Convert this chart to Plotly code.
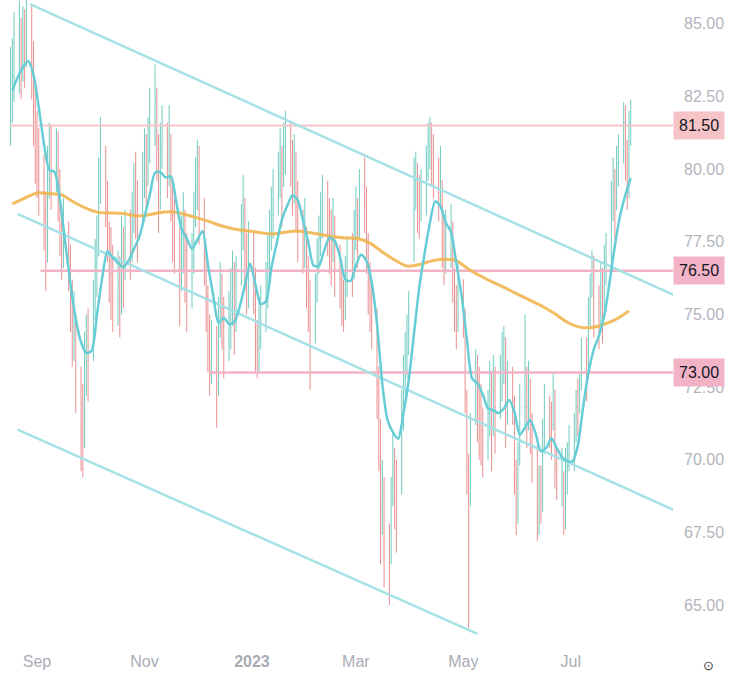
import pandas as pd
import plotly.graph_objects as go

# ---------------- data ----------------
days = pd.bdate_range("2022-08-17", "2023-08-04")

opens = [82.0, 82.4, 83.2,
 83.9, 84.6, 83.2, 84.8, 84.1,  85.0, 83.6, 82.2, 81.0, 80.6,  79.6, 78.5, 76.8, 79.6, 80.5,
 80.2, 80.8, 79.6, 78.6, 77.4,  77.8, 76.6, 75.8, 74.2, 74.6,  72.8, 71.2, 70.8, 72.6, 74.2,
 73.6, 75.6, 76.8, 77.4, 79.2,  80.6, 79.2, 77.6, 77.0, 76.4,  75.6, 76.0, 75.4, 77.2, 76.6,
 77.8, 77.2, 78.4, 79.4, 78.8,  78.0, 79.6, 80.4, 79.8, 80.8,  81.6, 82.4, 81.0, 79.2, 80.6,
 81.4, 80.2, 81.2, 79.6, 78.4,  77.6, 76.2, 77.0, 78.2, 77.2,  76.4, 76.8, 78.2, 79.4, 80.2,
 78.6, 77.0, 75.6, 74.2, 73.4,  73.8, 72.6, 74.4, 75.8, 75.2,  74.0, 74.6, 75.4, 76.2, 75.0,
 76.0, 77.8, 78.6, 77.2, 76.4,  76.8, 76.2, 74.0, 73.4, 74.2,  75.0, 75.8, 76.6, 77.8, 78.4,
 79.0, 79.8, 80.4, 79.4, 80.8,  81.2, 80.4, 79.6, 80.2, 79.0,  78.2, 77.6, 78.0, 76.4, 75.8,
 74.4, 75.6, 76.8, 77.6, 78.2,  79.0, 78.4, 77.8, 77.2, 78.2,  76.6, 76.2, 75.6, 75.0, 76.2,
 76.8, 76.4, 77.6, 78.4, 77.8,  79.2, 78.8, 77.6, 76.0, 75.6,  74.8, 72.6, 71.0, 68.4, 68.8,
 67.2, 66.8, 68.6, 69.8, 69.4,  69.0, 71.6, 72.8, 73.6, 74.4,  78.6, 79.6, 79.8, 79.2, 78.8,
 79.4, 79.8, 80.8, 81.2, 80.6,  80.2, 79.2, 79.6, 77.8, 77.2,  77.6, 78.0, 76.4, 75.4, 74.8,
 76.2, 75.0, 72.2, 69.8, 68.6,  71.2, 73.0, 72.4, 71.8, 71.0,  70.6, 71.6, 72.4, 71.2, 72.8,
 71.8, 72.8, 73.6, 74.2, 71.8,  72.6, 72.0, 69.4, 68.2, 70.0,  71.8, 72.4, 71.8, 72.6, 71.2,
 70.2, 67.8, 69.4, 68.6, 70.6,  71.8, 71.6, 71.2, 72.4, 69.6,  69.2, 69.4, 67.8, 69.6, 69.8,
 70.6, 70.8, 71.8, 71.6, 72.4,  73.8, 73.0, 74.8, 75.6, 77.0,  75.4, 74.8, 75.6, 75.2, 76.8,
 77.0, 78.8, 79.4, 78.6, 80.2,  80.6, 81.6, 80.4, 79.2, 81.6]

closes = [82.4, 83.2, 83.9,
 84.6, 83.2, 84.8, 84.1, 85.0,  83.6, 82.2, 81.0, 80.6, 79.6,  78.5, 76.8, 79.6, 80.5, 80.2,
 80.8, 79.6, 78.6, 77.4, 77.8,  76.6, 75.8, 74.2, 74.6, 72.8,  71.2, 70.8, 72.6, 74.2, 73.6,
 75.6, 76.8, 77.4, 79.2, 80.6,  79.2, 77.6, 77.0, 76.4, 75.6,  76.0, 75.4, 77.2, 76.6, 77.8,
 77.2, 78.4, 79.4, 78.8, 78.0,  79.6, 80.4, 79.8, 80.8, 81.6,  82.4, 81.0, 79.2, 80.6, 81.4,
 80.2, 81.2, 79.6, 78.4, 77.6,  76.2, 77.0, 78.2, 77.2, 76.4,  76.8, 78.2, 79.4, 80.2, 78.6,
 77.0, 75.6, 74.2, 73.4, 73.8,  72.6, 74.4, 75.8, 75.2, 74.0,  74.6, 75.4, 76.2, 75.0, 76.0,
 77.8, 78.6, 77.2, 76.4, 76.8,  76.2, 74.0, 73.4, 74.2, 75.0,  75.8, 76.6, 77.8, 78.4, 79.0,
 79.8, 80.4, 79.4, 80.8, 81.2,  80.4, 79.6, 80.2, 79.0, 78.2,  77.6, 78.0, 76.4, 75.8, 74.4,
 75.6, 76.8, 77.6, 78.2, 79.0,  78.4, 77.8, 77.2, 78.2, 76.6,  76.2, 75.6, 75.0, 76.2, 76.8,
 76.4, 77.6, 78.4, 77.8, 79.2,  78.8, 77.6, 76.0, 75.6, 74.8,  72.6, 71.0, 68.4, 68.8, 67.2,
 66.8, 68.6, 69.8, 69.4, 69.0,  71.6, 72.8, 73.6, 74.4, 75.2,  79.6, 79.8, 79.2, 78.8, 79.4,
 79.8, 80.8, 81.2, 80.6, 80.2,  79.2, 79.6, 77.8, 77.2, 77.6,  78.0, 76.4, 75.4, 74.8, 76.2,
 75.0, 72.2, 69.8, 68.6, 71.2,  73.0, 72.4, 71.8, 71.0, 70.6,  71.6, 72.4, 71.2, 72.8, 71.8,
 72.8, 73.6, 74.2, 71.8, 72.6,  72.0, 69.4, 68.2, 70.0, 71.8,  72.4, 71.8, 72.6, 71.2, 70.2,
 67.8, 69.4, 68.6, 70.6, 71.8,  71.6, 71.2, 72.4, 69.6, 69.2,  69.4, 67.8, 69.6, 69.8, 70.6,
 70.8, 71.8, 71.6, 72.4, 73.8,  73.0, 74.8, 75.6, 77.0, 75.4,  74.8, 75.6, 75.2, 76.8, 77.0,
 78.8, 79.4, 78.6, 80.2, 80.6,  81.6, 80.4, 79.2, 81.6, 81.8]

highs = [84.2, 84.5, 85.4,
 85.8, 85.2, 85.6, 85.5, 85.9,  85.6, 84.4, 82.8, 82.0, 81.4,  80.5, 79.2, 80.8, 81.6, 81.5,
 81.4, 81.3, 80.0, 78.8, 79.0,  78.2, 77.4, 76.2, 75.8, 75.0,  73.2, 72.6, 74.4, 75.0, 75.2,
 76.2, 77.6, 78.4, 80.4, 81.8,  80.8, 79.6, 78.2, 78.0, 77.4,  77.2, 77.0, 78.4, 78.0, 78.6,
 78.6, 79.2, 80.2, 80.6, 79.6,  80.6, 81.4, 81.2, 81.8, 82.8,  83.6, 82.8, 81.2, 81.6, 82.2,
 81.6, 82.2, 81.0, 79.6, 79.0,  78.0, 78.4, 79.2, 78.6, 77.8,  77.8, 79.2, 80.4, 81.0, 80.8,
 79.0, 77.4, 76.0, 75.0, 74.8,  74.6, 75.6, 76.8, 76.4, 75.6,  75.8, 76.6, 77.2, 76.8, 77.0,
 78.8, 79.8, 79.0, 77.8, 78.2,  77.8, 76.6, 74.8, 75.6, 76.0,  76.8, 77.8, 78.6, 79.4, 80.0,
 80.6, 81.4, 80.8, 81.6, 82.0,  81.6, 81.0, 81.2, 80.6, 79.6,  78.6, 79.0, 77.8, 77.0, 76.2,
 76.4, 77.6, 78.4, 79.2, 79.8,  79.6, 79.0, 78.6, 79.0, 78.4,  77.4, 76.8, 76.2, 77.0, 77.6,
 77.8, 78.6, 79.4, 79.0, 80.0,  80.4, 79.4, 77.8, 76.8, 76.2,  75.2, 73.2, 71.4, 70.0, 69.4,
 67.8, 69.4, 71.0, 70.4, 70.0,  72.4, 73.6, 74.4, 75.0, 75.8,  80.4, 80.6, 80.2, 79.8, 80.0,
 80.8, 81.6, 81.8, 81.6, 81.2,  80.4, 80.8, 79.4, 78.4, 78.6,  78.8, 78.2, 76.6, 76.0, 76.8,
 76.2, 75.2, 72.4, 70.2, 71.6,  73.8, 73.6, 73.2, 72.6, 71.8,  72.4, 73.4, 73.0, 73.6, 73.2,
 73.6, 74.4, 74.6, 73.8, 73.4,  73.2, 72.2, 70.0, 70.6, 72.6,  75.0, 73.2, 73.4, 72.8, 71.6,
 70.6, 69.8, 69.8, 71.4, 72.6,  72.2, 72.0, 73.0, 72.2, 70.4,  70.4, 69.6, 70.4, 70.6, 71.2,
 71.6, 72.4, 72.8, 73.0, 74.2,  74.2, 75.6, 76.4, 77.2, 77.0,  76.0, 76.8, 76.6, 77.4, 77.8,
 79.6, 80.4, 80.0, 80.8, 81.2,  82.3, 82.2, 81.0, 82.0, 82.4]

lows = [80.8, 81.6, 82.3,
 82.6, 82.4, 83.0, 82.8, 83.5,  82.4, 80.8, 79.5, 79.0, 78.4,  77.2, 75.8, 76.8, 79.0, 78.6,
 79.2, 78.2, 77.0, 76.2, 76.6,  75.8, 74.4, 73.2, 73.4, 71.6,  69.6, 69.4, 70.4, 72.2, 72.0,
 73.4, 74.8, 75.6, 77.0, 78.8,  78.0, 76.8, 75.4, 74.8, 74.4,  74.6, 74.2, 75.0, 75.2, 76.2,
 76.2, 76.8, 77.8, 77.6, 76.8,  78.4, 79.0, 78.6, 79.4, 80.2,  80.8, 79.6, 77.8, 78.6, 80.0,
 79.0, 79.4, 78.2, 76.8, 76.4,  74.6, 75.8, 76.4, 75.4, 74.4,  75.2, 76.4, 78.0, 78.6, 77.4,
 76.0, 74.4, 73.0, 72.2, 72.6,  71.1, 72.2, 74.2, 73.8, 72.8,  73.4, 73.8, 74.6, 73.6, 74.4,
 76.4, 77.2, 75.8, 75.0, 75.2,  75.0, 73.0, 72.8, 73.0, 73.8,  74.4, 75.2, 76.2, 77.2, 77.6,
 78.4, 79.0, 78.0, 79.4, 79.8,  79.4, 78.4, 78.8, 77.8, 76.8,  76.4, 76.6, 75.2, 74.4, 72.4,
 74.0, 75.4, 76.4, 77.0, 77.6,  77.0, 76.4, 76.0, 76.8, 75.6,  75.2, 74.6, 74.4, 74.8, 75.6,
 75.6, 76.2, 77.2, 76.6, 77.6,  77.8, 76.4, 75.0, 74.4, 73.8,  71.4, 69.6, 66.4, 67.4, 65.6,
 65.0, 66.4, 68.4, 67.6, 66.8,  68.8, 71.0, 72.2, 72.8, 73.6,  76.8, 78.6, 77.8, 77.6, 78.2,
 78.4, 79.6, 80.0, 79.4, 79.0,  78.2, 78.6, 76.6, 76.0, 76.4,  76.6, 75.4, 74.4, 73.8, 74.4,
 74.2, 71.6, 68.8, 64.2, 68.4,  71.2, 70.6, 70.0, 69.8, 69.4,  70.0, 70.8, 69.6, 70.8, 70.2,
 71.4, 72.0, 72.6, 70.4, 71.2,  71.2, 68.8, 67.4, 67.8, 69.8,  71.0, 70.4, 71.0, 70.2, 69.2,
 67.2, 67.4, 67.8, 68.2, 70.2,  70.4, 70.0, 71.0, 69.0, 68.6,  68.4, 67.4, 67.6, 68.8, 69.6,
 69.6, 70.6, 70.8, 71.6, 72.6,  72.0, 73.4, 74.6, 75.8, 74.2,  73.8, 74.6, 74.0, 75.2, 76.0,
 76.6, 78.2, 77.6, 78.6, 79.4,  80.2, 79.6, 78.6, 79.0, 80.8]

# moving averages
fast_ma_dates = pd.date_range("2022-08-18", periods=118, freq="3D")
fast_ma = [82.70, 83.15, 83.50, 83.72, 83.25, 82.13, 80.86, 79.97, 79.90, 78.95,
           77.48, 76.04, 74.85, 74.04, 73.67, 73.75, 74.97, 76.25, 77.17, 76.95,
           76.77, 76.63, 76.85, 77.25, 77.65, 78.35, 79.11, 79.88, 79.90, 79.71,
           79.75, 78.88, 77.96, 77.61, 77.26, 77.56, 77.87, 76.72, 75.66, 74.71,
           74.88, 74.67, 74.73, 75.25, 76.00, 76.75, 76.02, 75.36, 75.45, 76.59,
           77.43, 78.26, 78.73, 79.10, 78.93, 78.23, 77.47, 76.68, 76.67, 77.20,
           77.64, 77.53, 76.98, 76.20, 76.15, 76.67, 77.06, 76.84, 76.10, 74.67,
           72.61, 71.35, 70.95, 70.72, 71.59, 72.73, 74.35, 75.94, 77.10, 78.14,
           78.89, 78.72, 78.16, 77.84, 76.76, 75.65, 74.15, 72.79, 72.63, 72.25,
           71.76, 71.70, 71.60, 71.76, 72.05, 71.64, 70.85, 71.11, 71.36, 70.90,
           70.29, 70.40, 70.74, 70.40, 70.09, 69.95, 69.94, 70.49, 71.82, 72.98,
           73.79, 74.27, 74.96, 76.10, 77.36, 78.40, 79.12, 79.69]

slow_ma_dates = pd.date_range("2022-08-18", periods=51, freq="7D")
slow_ma = [78.80, 79.00, 79.18, 79.16, 79.11, 78.86, 78.65, 78.51, 78.49, 78.47,
           78.39, 78.42, 78.51, 78.53, 78.44, 78.32, 78.19, 78.04, 77.94, 77.88,
           77.82, 77.77, 77.82, 77.87, 77.82, 77.75, 77.67, 77.63, 77.61, 77.45,
           77.15, 76.87, 76.66, 76.71, 76.84, 76.90, 76.85, 76.55, 76.31, 76.10,
           75.90, 75.69, 75.48, 75.27, 75.02, 74.73, 74.56, 74.55, 74.66, 74.84,
           75.12]

# trend channel drawings (anchor date, price)
channel_upper = [("2022-08-28", 85.68), ("2023-08-29", 75.65)]
channel_middle = [("2022-08-21", 78.46), ("2023-08-29", 68.25)]
channel_lower = [("2022-08-21", 71.03), ("2023-05-09", 64.00)]

# horizontal levels: (price, start date, label)
levels = [(81.50, "2022-08-17", "81.50"),
          (76.50, "2022-09-03", "76.50"),
          (73.00, "2022-12-08", "73.00")]
level_colors = ["#f6c4c7", "#f3b3c6", "#f3b3c6"]

y_ticks = [65.0, 67.5, 70.0, 72.5, 75.0, 77.5, 80.0, 82.5, 85.0]
x_tick_dates = ["2022-09-01", "2022-11-01", "2023-01-01", "2023-03-01", "2023-05-01", "2023-07-01"]
x_tick_text = ["Sep", "Nov", "<b>2023</b>", "Mar", "May", "Jul"]

assert len(days) == len(opens) == len(closes) == len(highs) == len(lows)

hi = [max(h, o, c) for h, o, c in zip(highs, opens, closes)]
lo = [min(l, o, c) for l, o, c in zip(lows, opens, closes)]

# ---------------- figure ----------------
fig = go.Figure()

X_END = "2023-09-30"
for (price, start, _), col in zip(levels, level_colors):
    fig.add_trace(go.Scatter(x=[start, X_END], y=[price, price], mode="lines",
                             line=dict(color=col, width=2.5 if price != 81.5 else 2),
                             hoverinfo="skip", showlegend=False))

for ch in (channel_upper, channel_middle, channel_lower):
    fig.add_trace(go.Scatter(x=[p[0] for p in ch], y=[p[1] for p in ch], mode="lines",
                             line=dict(color="#a6e1e6", width=2.5),
                             hoverinfo="skip", showlegend=False))

fig.add_trace(go.Ohlc(x=days, open=opens, high=hi, low=lo, close=closes,
                      increasing=dict(line=dict(color="#6fcbbf", width=1)),
                      decreasing=dict(line=dict(color="#eb8f8f", width=1)),
                      tickwidth=0.3, showlegend=False))

fig.add_trace(go.Scatter(x=slow_ma_dates, y=slow_ma, mode="lines",
                         line=dict(color="#f2b550", width=3, shape="spline", smoothing=0.8),
                         opacity=0.9, hoverinfo="skip", showlegend=False))
fig.add_trace(go.Scatter(x=fast_ma_dates, y=fast_ma, mode="lines",
                         line=dict(color="#66cdd6", width=2.5, shape="spline", smoothing=0.7),
                         hoverinfo="skip", showlegend=False))

for (price, _, label), col in zip(levels, level_colors):
    fig.add_annotation(xref="paper", yref="y", x=1, y=price, xanchor="left", yanchor="middle",
                       text=label, showarrow=False, bgcolor=col, borderpad=5,
                       font=dict(family="Liberation Sans, Arial, sans-serif", size=16, color="#131722"))

fig.add_annotation(xref="paper", yref="paper", x=1, y=0, xanchor="center", yanchor="middle",
                   xshift=35, yshift=-20, text="⊙", showarrow=False,
                   font=dict(size=13, color="#444444"))

fig.update_layout(
    width=740, height=683,
    margin=dict(l=0, r=67, t=0, b=38),
    paper_bgcolor="white", plot_bgcolor="white",
    showlegend=False,
    font=dict(family="Liberation Sans, Arial, sans-serif", size=16, color="#b2b5be"),
    xaxis=dict(type="date", range=["2022-08-11", "2023-08-28"],
               tickvals=x_tick_dates, ticktext=x_tick_text,
               showgrid=False, zeroline=False, showline=False, ticks="",
               ticklabelstandoff=5,
               rangeslider=dict(visible=False),
               tickfont=dict(size=16, color="#a9acb5")),
    yaxis=dict(side="right", range=[63.62, 85.82], tickvals=y_ticks, tickformat=".2f",
               showgrid=False, zeroline=False, showline=False, ticks="",
               ticklabelstandoff=10,
               tickfont=dict(size=16, color="#b2b5be")),
)

fig.write_html("out.html", config={"displayModeBar": False},
               post_script="document.body.style.margin='0px';")
